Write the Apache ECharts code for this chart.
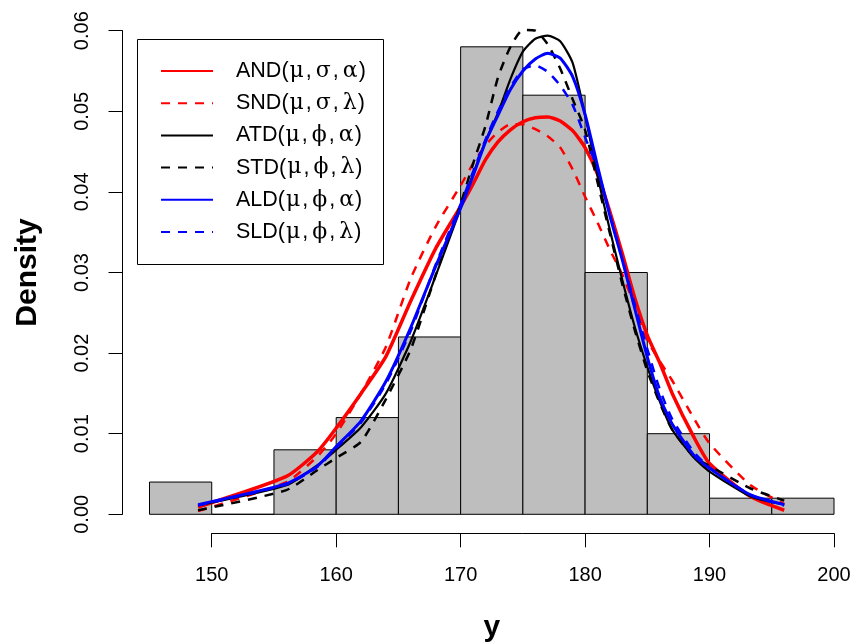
<!DOCTYPE html>
<html><head><meta charset="utf-8">
<script src="https://cdn.jsdelivr.net/npm/echarts@6/dist/echarts.min.js"></script>
<style>html,body{margin:0;padding:0;background:#fff}#c{width:854px;height:642px}</style>
</head><body><div id="c"></div>
<script>
// Histogram bins (left edge, right edge) and densities
const binStarts = [145,150,155,160,165,170,175,180,185,190,195];
const binEnds   = [150,155,160,165,170,175,180,185,190,195,200];
const binDensity = [0.004,0,0.008,0.012,0.022,0.058,0.052,0.030,0.010,0.002,0.002];

// Density curves evaluated at these y values
const curveX = [148.9,156,158.5,160,162,164,166,168,170,171,172,173,174,175,176,177,178,179,180,181,182,183,184,185,186,187,188.7,190,193.3,196];
const andY = [0.0009,0.0047,0.0078,0.0107,0.0150,0.0196,0.0265,0.0330,0.0382,0.0410,0.0440,0.0462,0.0477,0.0487,0.0492,0.0493,0.0488,0.0476,0.0455,0.0422,0.0375,0.0323,0.0268,0.0222,0.0188,0.0150,0.0097,0.0063,0.0022,0.0005];
const sndY = [0.0004,0.0040,0.0072,0.0100,0.0150,0.0208,0.0293,0.0357,0.0408,0.0435,0.0458,0.0474,0.0484,0.0484,0.0478,0.0469,0.0455,0.0428,0.0394,0.0362,0.0328,0.0297,0.0258,0.0216,0.0190,0.0166,0.0120,0.0088,0.0036,0.0013];
const atdY = [0.0011,0.0036,0.0061,0.0080,0.0108,0.0150,0.0215,0.0296,0.0380,0.0422,0.0463,0.0498,0.0540,0.0574,0.0590,0.0594,0.0587,0.0560,0.0495,0.0420,0.0352,0.0290,0.0232,0.0183,0.0140,0.0105,0.0071,0.0053,0.0022,0.0012];
const stdY = [0.0005,0.0030,0.0055,0.0070,0.0090,0.0143,0.0205,0.0297,0.0385,0.0435,0.0482,0.0542,0.0580,0.0601,0.0600,0.0583,0.0553,0.0515,0.0477,0.0412,0.0348,0.0285,0.0228,0.0178,0.0138,0.0105,0.0072,0.0060,0.0032,0.0017];
const aldY = [0.0012,0.0038,0.0060,0.0084,0.0116,0.0165,0.0232,0.0308,0.0380,0.0420,0.0462,0.0495,0.0527,0.0550,0.0565,0.0572,0.0566,0.0543,0.0496,0.0432,0.0370,0.0315,0.0255,0.0195,0.0145,0.0112,0.0074,0.0057,0.0024,0.0012];
const sldY = [0.0011,0.0037,0.0059,0.0082,0.0114,0.0162,0.0228,0.0310,0.0385,0.0425,0.0465,0.0500,0.0530,0.0552,0.0557,0.0549,0.0532,0.0508,0.0468,0.0428,0.0372,0.0316,0.0260,0.0205,0.0155,0.0118,0.0078,0.0058,0.0024,0.0011];

const seriesNames = ['AND(μ,σ,α)','SND(μ,σ,λ)','ATD(μ,ϕ,α)','STD(μ,ϕ,λ)','ALD(μ,ϕ,α)','SLD(μ,ϕ,λ)'];
const seriesValues = [andY, sndY, atdY, stdY, aldY, sldY];
const seriesColors = ['#FF0000','#FF0000','#000000','#000000','#0000FF','#0000FF'];
const seriesDashed = [false,true,false,true,false,true];
const seriesWidths = [3.5,2.5,2.2,2.5,3,2.5];

const xTicks = {min:150, max:200, interval:10};
const yTicks = {min:0, max:0.06, interval:0.01};

const FONT = '"Liberation Sans", Arial, Helvetica, sans-serif';
const GREEK_FONT = '"DejaVu Serif", "Liberation Serif", serif';
const chart = echarts.init(document.getElementById('c'), null, {renderer:'canvas'});

const histData = binStarts.map((s,i)=>[s, binEnds[i], binDensity[i]]);

const lineSeries = seriesNames.map((name,k)=>({
  name: name,
  type: 'line',
  xAxisIndex: 0, yAxisIndex: 0,
  data: curveX.map((x,i)=>[x, seriesValues[k][i]]),
  symbol: 'none',
  showSymbol: false,
  smooth: 0.2,
  clip: false,
  z: 3 + k,
  lineStyle: {color: seriesColors[k], width: seriesWidths[k], type: seriesDashed[k] ? [9,8] : 'solid', cap: 'butt'},
  itemStyle: {color: seriesColors[k]},
  emphasis: {disabled: true}
}));

function legendLabel(name){
  return name.replace(/([μσαϕλ])/g, '{g|$1}').replace(/,/g, '{c|,}');
}

const option = {
  animation: false,
  backgroundColor: '#ffffff',
  textStyle: {fontFamily: FONT},
  grid: [
    {left: 149.5, right: 20, top: 30.7, bottom: 127.7, containLabel: false, outerBoundsMode: 'none'},
    {left: 211.7, right: 20, top: 30.7, bottom: 127.7, containLabel: false, outerBoundsMode: 'none'}
  ],
  xAxis: [
    {type:'value', gridIndex:0, min:145, max:200, show:true,
     axisLine:{show:false, onZero:false}, axisTick:{show:false}, axisLabel:{show:false}, splitLine:{show:false},
     name:'y', nameLocation:'middle', nameGap: 98,
     nameTextStyle:{fontSize:30, fontWeight:'bold', color:'#000', fontFamily:FONT}},
    {type:'value', gridIndex:1, min:xTicks.min, max:xTicks.max, interval:xTicks.interval, offset:19,
     axisLine:{show:true, onZero:false, lineStyle:{color:'#000', width:1}},
     axisTick:{show:true, length:14, lineStyle:{color:'#000', width:1}},
     axisLabel:{show:true, fontSize:20, color:'#000', margin:32, fontFamily:FONT},
     splitLine:{show:false}}
  ],
  yAxis: [
    {type:'value', gridIndex:0, min:yTicks.min, max:yTicks.max, interval:yTicks.interval, offset:27,
     axisLine:{show:true, onZero:false, lineStyle:{color:'#000', width:1}},
     axisTick:{show:true, length:14, lineStyle:{color:'#000', width:1}},
     axisLabel:{show:true, fontSize:20, color:'#000', rotate:90, margin:30, fontFamily:FONT,
                formatter:(v)=>v.toFixed(2)},
     splitLine:{show:false},
     name:'Density', nameLocation:'middle', nameGap: 80,
     nameTextStyle:{fontSize:30, fontWeight:'bold', color:'#000', fontFamily:FONT}},
    {type:'value', gridIndex:1, show:false, min:0, max:0.06}
  ],
  legend: {
    show: true,
    z: 20,
    orient: 'vertical',
    left: 160, top: 60,
    padding: 0,
    itemWidth: 52, itemHeight: 14, itemGap: 10.2,
    selectedMode: false,
    data: seriesNames,
    itemStyle: {opacity: 0},
    textStyle: {fontSize: 21.5, color:'#000', fontFamily: FONT, padding:[0,0,0,18], lineHeight: 22,
      rich: {
        g: {fontSize: 22, fontFamily: GREEK_FONT, color:'#000', lineHeight: 22, padding:[0,1,0,1]},
        c: {fontSize: 21.5, fontFamily: FONT, color:'#000', lineHeight: 22, padding:[0,3,0,1]}
      }},
    formatter: legendLabel
  },
  graphic: {
    elements: [
      {type:'rect', shape:{x:137.5, y:39.5, width:246, height:225}, style:{fill:'#fff', stroke:'#000', lineWidth:1}, z: 1, silent:true}
    ]
  },
  series: [
    {
      type: 'custom',
      xAxisIndex: 0, yAxisIndex: 0,
      data: histData,
      encode: {x:[0,1], y:2},
      z: 2,
      renderItem: function(params, api){
        const p0 = api.coord([api.value(0), api.value(2)]);
        const p1 = api.coord([api.value(1), 0]);
        return {type:'rect', shape:{x:p0[0], y:p0[1], width:p1[0]-p0[0], height:Math.max(p1[1]-p0[1], 0.01)},
                style:{fill:'#BEBEBE', stroke:'#000', lineWidth:1}};
      },
      silent: true
    }
  ].concat(lineSeries)
};
chart.setOption(option);
</script>
</body></html>
